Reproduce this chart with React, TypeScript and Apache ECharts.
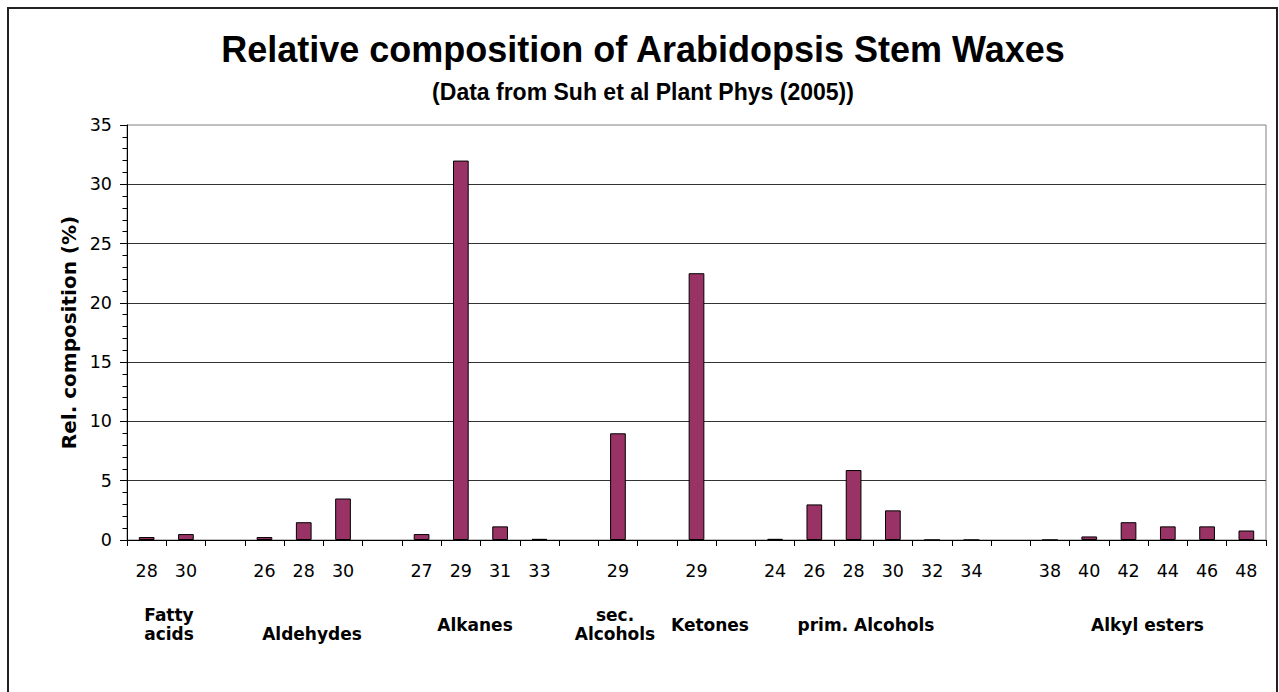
import React, { useEffect, useRef } from "react";
import * as echarts from "echarts";

// Carbon chain lengths per compound class (empty strings are gaps between classes)
const categories = [
  "28", "30", "",
  "26", "28", "30", "",
  "27", "29", "31", "33", "",
  "29", "",
  "29", "",
  "24", "26", "28", "30", "32", "34", "",
  "38", "40", "42", "44", "46", "48",
];

// Relative composition (%) for each slot
const values = [
  0.25, 0.5, null,
  0.25, 1.5, 3.5, null,
  0.5, 32, 1.15, 0.1, null,
  9, null,
  22.5, null,
  0.1, 3, 5.9, 2.5, 0, 0, null,
  0, 0.3, 1.5, 1.15, 1.15, 0.8,
];

const groupLabels = [
  "Fatty\nacids",
  "Aldehydes",
  "Alkanes",
  "sec.\nAlcohols",
  "Ketones",
  "prim. Alcohols",
  "Alkyl esters",
];

const titleText = "Relative composition of Arabidopsis Stem Waxes";
const subtitleText = "(Data from Suh et al Plant Phys (2005))";
const yAxisName = "Rel. composition (%)";

const Y_MIN = 0;
const Y_MAX = 35;
const Y_INTERVAL = 5;

export default function App() {
  const ref = useRef<HTMLDivElement>(null);

  useEffect(() => {
    document.body.style.margin = "0";
    if (!ref.current) return;
    const chart = echarts.init(ref.current, undefined, { renderer: "svg" });

    const groupPos: [number, number][] = [
      [169, 624.5],
      [312, 634],
      [475, 624.5],
      [615, 624.5],
      [710, 624.5],
      [866, 624.5],
      [1147.5, 624.5],
    ];

    const verdana = "Verdana, 'DejaVu Sans', sans-serif";
    const arial = "Arial, 'Liberation Sans', sans-serif";

    chart.setOption({
      animation: false,
      backgroundColor: "#ffffff",
      grid: {
        left: 127,
        right: 13,
        top: 125,
        bottom: 152,
        show: true,
        borderColor: "#808080",
        borderWidth: 1,
        backgroundColor: "transparent",
      },
      xAxis: {
        type: "category",
        data: categories,
        boundaryGap: true,
        axisLine: { show: true, lineStyle: { color: "#000", width: 1 } },
        axisTick: {
          show: true,
          interval: 0,
          length: 6,
          alignWithLabel: false,
          lineStyle: { color: "#000" },
        },
        axisLabel: {
          interval: 0,
          color: "#000",
          fontFamily: verdana,
          fontSize: 17.5,
          margin: 22,
        },
        splitLine: { show: false },
      },
      yAxis: {
        type: "value",
        min: Y_MIN,
        max: Y_MAX,
        interval: Y_INTERVAL,
        name: yAxisName,
        nameLocation: "middle",
        nameRotate: 90,
        nameGap: 48,
        nameTextStyle: {
          color: "#000",
          fontFamily: verdana,
          fontWeight: "bold",
          fontSize: 20,
        },
        axisLine: { show: true, lineStyle: { color: "#000", width: 1 } },
        axisTick: { show: true, length: 7, lineStyle: { color: "#000" } },
        minorTick: { show: true, splitNumber: 5, length: 4.5, lineStyle: { color: "#000" } },
        axisLabel: {
          color: "#000",
          fontFamily: verdana,
          fontSize: 17.5,
          margin: 15,
        },
        splitLine: {
          show: true,
          showMinLine: false,
          showMaxLine: false,
          lineStyle: { color: "#333", width: 1 },
        },
      },
      series: [
        {
          type: "bar",
          data: values,
          barWidth: "40%",
          itemStyle: {
            color: "#993366",
            borderColor: "#000",
            borderWidth: 1,
          },
        },
      ],
      graphic: [
        {
          type: "rect",
          shape: { x: 8, y: 8, width: 1269, height: 700 },
          style: { fill: "none", stroke: "#222", lineWidth: 2 },
          silent: true,
          z: 100,
        },
        {
          type: "text",
          x: 643,
          y: 49,
          style: {
            text: titleText,
            fill: "#000",
            font: `bold 36px ${arial}`,
            textAlign: "center",
            textVerticalAlign: "middle",
          },
        },
        {
          type: "text",
          x: 643,
          y: 92,
          style: {
            text: subtitleText,
            fill: "#000",
            font: `bold 23px ${arial}`,
            textAlign: "center",
            textVerticalAlign: "middle",
          },
        },
        ...groupLabels.map((t, i) => ({
          type: "text",
          x: groupPos[i][0],
          y: groupPos[i][1],
          style: {
            text: t,
            fill: "#000",
            font: `bold 17px ${verdana}`,
            lineHeight: 19,
            textAlign: "center",
            textVerticalAlign: "middle",
          },
        })),
      ],
    });

    return () => {
      chart.dispose();
    };
  }, []);

  return <div ref={ref} style={{ width: 1279, height: 692 }} />;
}
